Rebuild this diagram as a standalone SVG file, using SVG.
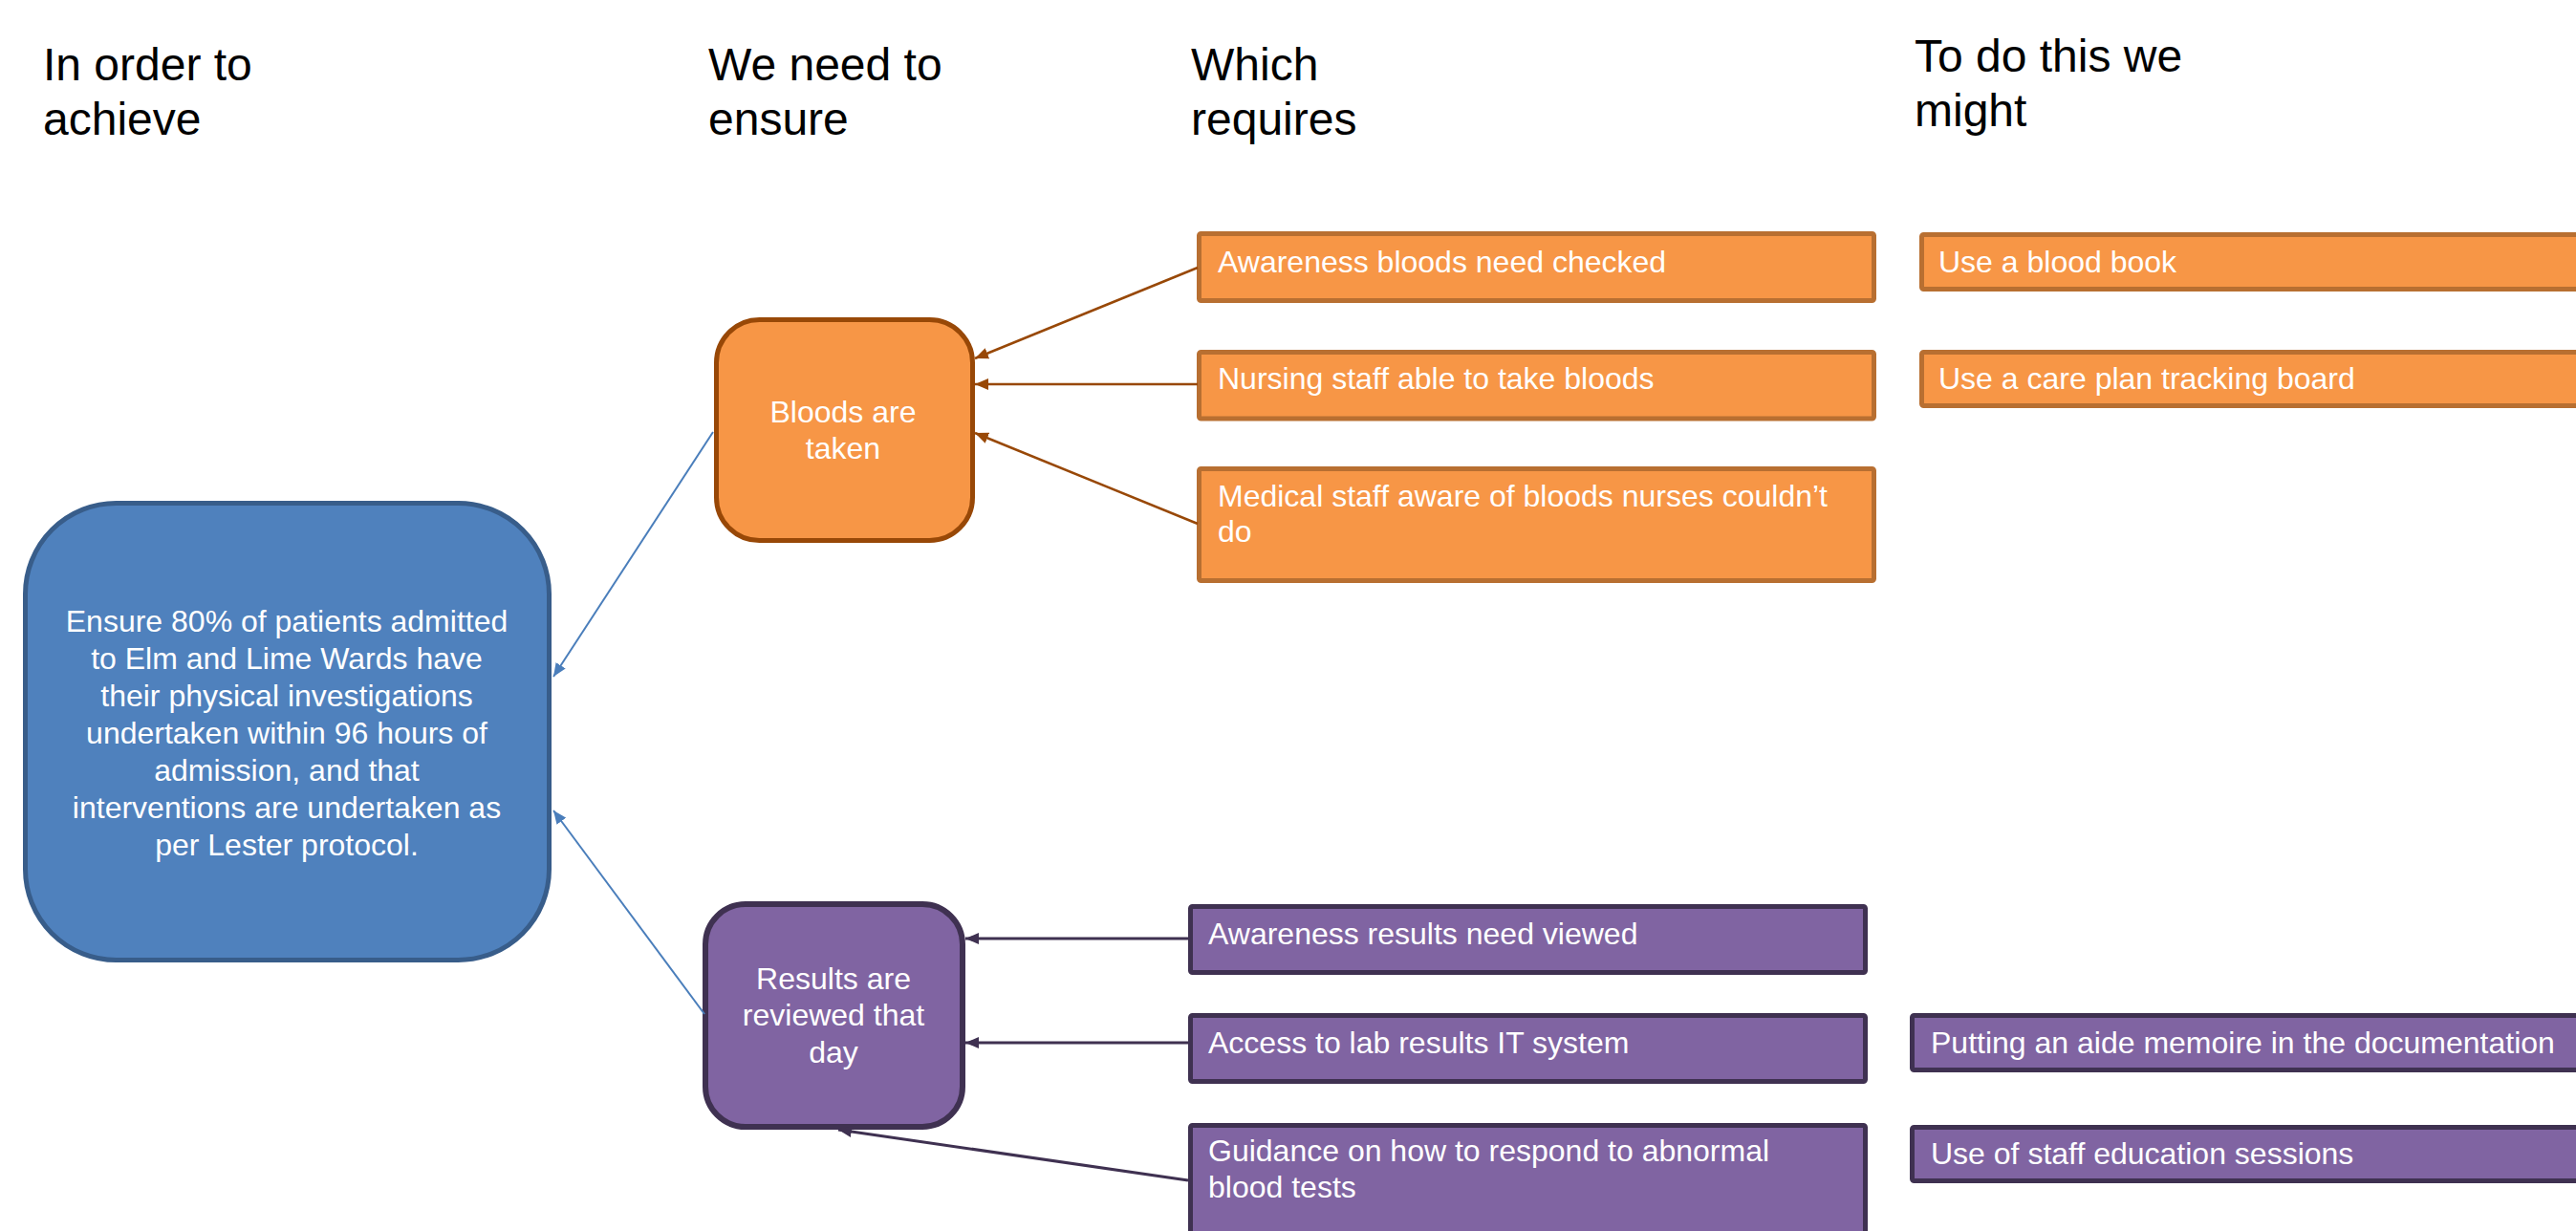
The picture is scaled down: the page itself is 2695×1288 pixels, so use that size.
<svg xmlns="http://www.w3.org/2000/svg" width="2695" height="1288" viewBox="0 0 2695 1288">
<style>
text{font-family:"Liberation Sans",Arial,sans-serif}
.hdr{font-size:48px;fill:#000}
.lbl{font-size:32px;fill:#fff}
.ctr{text-anchor:middle}
.blue{fill:#4F81BD;stroke:#385D8A;stroke-width:5}
.bnode{fill:#F79646;stroke:#984807;stroke-width:5}
.orect{fill:#F79646;stroke:#B86F31;stroke-width:5}
.pnode{fill:#8064A2;stroke:#3F3151;stroke-width:6}
.prect{fill:#8064A2;stroke:#3F3151;stroke-width:5}
.cb{stroke:#4A7EBB;stroke-width:2;fill:none}
.co{stroke:#984807;stroke-width:2.5;fill:none}
.cp{stroke:#3F3151;stroke-width:3;fill:none}
</style>
<defs>
<marker id="ab" viewBox="0 0 14 12" refX="14" refY="6" markerWidth="14" markerHeight="12" markerUnits="userSpaceOnUse" orient="auto"><path d="M0,0 L14,6 L0,12 z" fill="#4A7EBB"/></marker>
<marker id="ao" viewBox="0 0 14 12" refX="14" refY="6" markerWidth="14" markerHeight="12" markerUnits="userSpaceOnUse" orient="auto"><path d="M0,0 L14,6 L0,12 z" fill="#984807"/></marker>
<marker id="ap" viewBox="0 0 14 12" refX="14" refY="6" markerWidth="14" markerHeight="12" markerUnits="userSpaceOnUse" orient="auto"><path d="M0,0 L14,6 L0,12 z" fill="#3F3151"/></marker>
</defs>
<rect width="2695" height="1288" fill="#fff"/>
<g id="headers">
<text class="hdr" x="45" y="84">In order to<tspan x="45" y="141">achieve</tspan></text>
<text class="hdr" x="741" y="84">We need to<tspan x="741" y="141">ensure</tspan></text>
<text class="hdr" x="1246" y="84">Which<tspan x="1246" y="141">requires</tspan></text>
<text class="hdr" x="2003" y="75">To do this we<tspan x="2003" y="132">might</tspan></text>
</g>
<g id="goal">
<rect class="blue" x="26.5" y="526.5" width="548" height="478" rx="95"/>
<text class="lbl ctr" x="300" y="661">Ensure 80% of patients admitted<tspan x="300" dy="39">to Elm and Lime Wards have</tspan><tspan x="300" dy="39">their physical investigations</tspan><tspan x="300" dy="39">undertaken within 96 hours of</tspan><tspan x="300" dy="39">admission, and that</tspan><tspan x="300" dy="39">interventions are undertaken as</tspan><tspan x="300" dy="39">per Lester protocol.</tspan></text>
</g>
<g id="bloods-taken">
<rect class="bnode" x="749.5" y="334.5" width="268" height="231" rx="45"/>
<text class="lbl ctr" x="882" y="442">Bloods are<tspan x="882" y="480">taken</tspan></text>
</g>
<g id="results-reviewed">
<rect class="pnode" x="738" y="946" width="269" height="233" rx="42"/>
<text class="lbl ctr" x="872" y="1035">Results are<tspan x="872" y="1073">reviewed that</tspan><tspan x="872" y="1112">day</tspan></text>
</g>
<g id="req-awareness-bloods">
<rect class="orect" x="1254.5" y="244.5" width="706" height="70" rx="2"/>
<text class="lbl" x="1274" y="285">Awareness bloods need checked</text>
</g>
<g id="req-nursing-staff">
<rect class="orect" x="1254.5" y="368.5" width="706" height="69.5" rx="2"/>
<text class="lbl" x="1274" y="407">Nursing staff able to take bloods</text>
</g>
<g id="req-medical-staff">
<rect class="orect" x="1254.5" y="490.5" width="706" height="117" rx="2"/>
<text class="lbl" x="1274" y="530">Medical staff aware of bloods nurses couldn’t<tspan x="1274" y="567">do</tspan></text>
</g>
<g id="idea-blood-book">
<rect class="orect" x="2010.5" y="245.5" width="750" height="57" rx="2"/>
<text class="lbl" x="2028" y="285">Use a blood book</text>
</g>
<g id="idea-tracking-board">
<rect class="orect" x="2010.5" y="368.5" width="750" height="56" rx="2"/>
<text class="lbl" x="2028" y="407">Use a care plan tracking board</text>
</g>
<g id="req-awareness-results">
<rect class="prect" x="1245.5" y="948.5" width="706" height="69" rx="2"/>
<text class="lbl" x="1264" y="988">Awareness results need viewed</text>
</g>
<g id="req-lab-access">
<rect class="prect" x="1245.5" y="1062.5" width="706" height="69" rx="2"/>
<text class="lbl" x="1264" y="1102">Access to lab results IT system</text>
</g>
<g id="req-guidance">
<rect class="prect" x="1245.5" y="1177.5" width="706" height="200" rx="2"/>
<text class="lbl" x="1264" y="1215">Guidance on how to respond to abnormal<tspan x="1264" y="1253">blood tests</tspan></text>
</g>
<g id="idea-aide-memoire">
<rect class="prect" x="2000.5" y="1062.5" width="750" height="57" rx="2"/>
<text class="lbl" x="2020" y="1102">Putting an aide memoire in the documentation</text>
</g>
<g id="idea-education">
<rect class="prect" x="2000.5" y="1179.5" width="750" height="56" rx="2"/>
<text class="lbl" x="2020" y="1218">Use of staff education sessions</text>
</g>
<g id="connectors">
<line class="cb" x1="746" y1="452" x2="579" y2="708" marker-end="url(#ab)"/>
<line class="cb" x1="737" y1="1061" x2="579" y2="848" marker-end="url(#ab)"/>
<line class="co" x1="1253" y1="280" x2="1020" y2="375" marker-end="url(#ao)"/>
<line class="co" x1="1253" y1="402" x2="1020" y2="402" marker-end="url(#ao)"/>
<line class="co" x1="1253" y1="548" x2="1020" y2="453" marker-end="url(#ao)"/>
<line class="cp" x1="1243" y1="982" x2="1010" y2="982" marker-end="url(#ap)"/>
<line class="cp" x1="1243" y1="1091" x2="1010" y2="1091" marker-end="url(#ap)"/>
<line class="cp" x1="1243" y1="1235" x2="877" y2="1182" marker-end="url(#ap)"/>
</g>
</svg>
